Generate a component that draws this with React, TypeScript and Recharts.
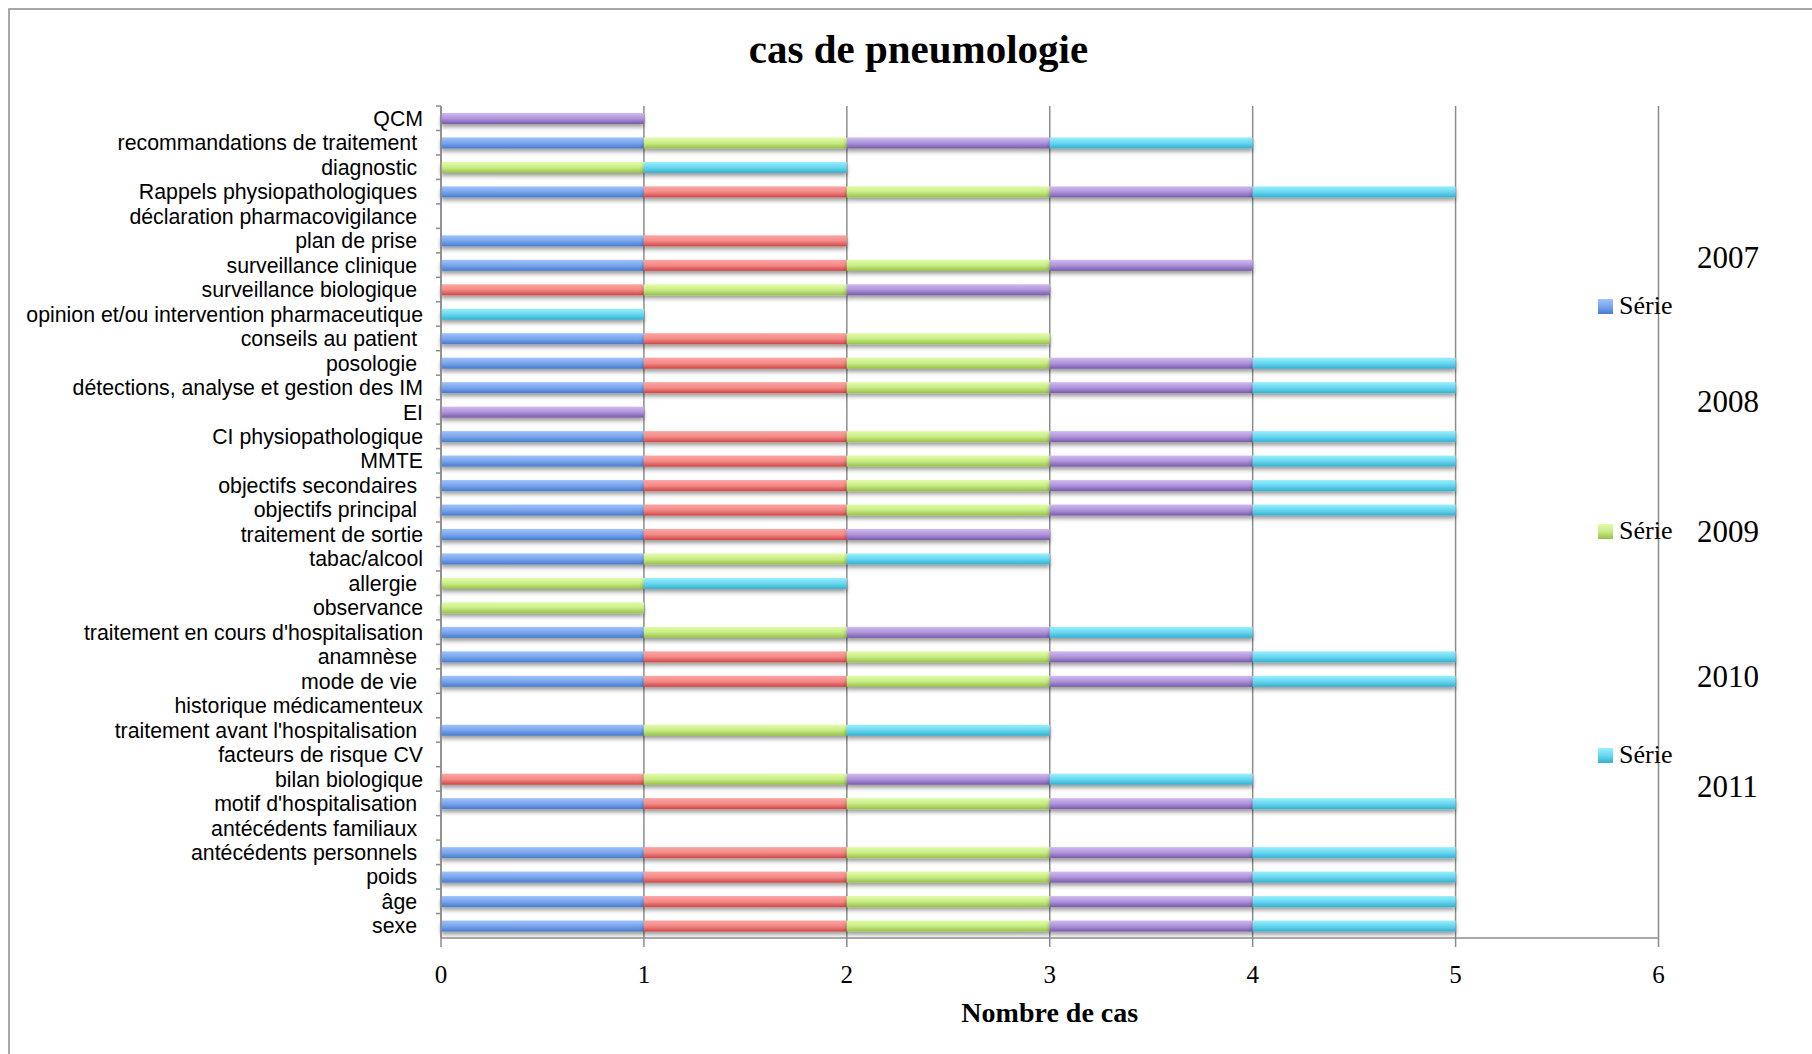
import React from "react";
import { BarChart, Bar, XAxis, YAxis, CartesianGrid, Legend, Label } from "recharts";

const CATEGORIES = [
  "QCM",
  "recommandations de traitement ",
  "diagnostic ",
  "Rappels physiopathologiques ",
  "déclaration pharmacovigilance ",
  "plan de prise ",
  "surveillance clinique ",
  "surveillance biologique ",
  "opinion et/ou intervention pharmaceutique",
  "conseils au patient ",
  "posologie ",
  "détections, analyse et gestion des IM",
  "EI",
  "CI physiopathologique",
  "MMTE",
  "objectifs secondaires ",
  "objectifs principal ",
  "traitement de sortie",
  "tabac/alcool",
  "allergie ",
  "observance",
  "traitement en cours d'hospitalisation",
  "anamnèse ",
  "mode de vie ",
  "historique médicamenteux",
  "traitement avant l'hospitalisation ",
  "facteurs de risque CV",
  "bilan biologique",
  "motif d'hospitalisation ",
  "antécédents familiaux ",
  "antécédents personnels ",
  "poids ",
  "âge ",
  "sexe ",
];

const S2007 = [0,1,0,1,0,1,1,0,0,1,1,1,0,1,1,1,1,1,1,0,0,1,1,1,0,1,0,0,1,0,1,1,1,1];
const S2008 = [0,0,0,1,0,1,1,1,0,1,1,1,0,1,1,1,1,1,0,0,0,0,1,1,0,0,0,1,1,0,1,1,1,1];
const S2009 = [0,1,1,1,0,0,1,1,0,1,1,1,0,1,1,1,1,0,1,1,1,1,1,1,0,1,0,1,1,0,1,1,1,1];
const S2010 = [1,1,0,1,0,0,1,1,0,0,1,1,1,1,1,1,1,1,0,0,0,1,1,1,0,0,0,1,1,0,1,1,1,1];
const S2011 = [0,1,1,1,0,0,0,0,1,0,1,1,0,1,1,1,1,0,1,1,0,1,1,1,0,1,0,1,1,0,1,1,1,1];

const SERIES_KEYS = ["s2007", "s2008", "s2009", "s2010", "s2011"];
const SERIES_NAMES = ["Série 2007", "Série 2008", "Série 2009", "Série 2010", "Série 2011"];
const X_TICKS = [0, 1, 2, 3, 4, 5, 6];

const TITLE = "cas de pneumologie";
const X_TITLE = "Nombre de cas";

// gradient colours (top, middle, bottom) per series
const GRADIENTS = [
  ["#9fc2fb", "#7aa5ec", "#477bcc"],
  ["#fda4a2", "#f28b88", "#cf4643"],
  ["#e1fda8", "#c9ec86", "#97c149"],
  ["#d0baf1", "#ae94db", "#785ba9"],
  ["#98f0fd", "#69d6f0", "#34b1d0"],
];

const data = CATEGORIES.map((name, i) => ({
  name,
  s2007: S2007[i],
  s2008: S2008[i],
  s2009: S2009[i],
  s2010: S2010[i],
  s2011: S2011[i],
}));

const W = 1812;
const H = 1054;
const PLOT_LEFT = 441;
const PLOT_TOP = 106;
const PLOT_BOTTOM = 938;
const BAND = (PLOT_BOTTOM - PLOT_TOP) / CATEGORIES.length;
const GRID = "#8c8c8c";

const YTick = (props: any) => {
  const { y, payload } = props;
  return (
    <g>
      <text
        x={PLOT_LEFT - 18}
        y={y}
        dy="0.36em"
        textAnchor="end"
        xmlSpace="preserve"
        style={{ whiteSpace: "pre" }}
        fontFamily="'Liberation Sans', Arial, sans-serif"
        fontSize={21.3}
        fill="#000"
      >
        {payload.value}
      </text>
      <line
        x1={PLOT_LEFT - 5}
        x2={PLOT_LEFT}
        y1={y - BAND / 2}
        y2={y - BAND / 2}
        stroke={GRID}
        strokeWidth={1.5}
      />
    </g>
  );
};

const XTick = (props: any) => {
  const { x, y, payload } = props;
  return (
    <text
      x={x}
      y={y + 34}
      textAnchor="middle"
      fontFamily="'Liberation Serif', 'Times New Roman', serif"
      fontSize={25}
      fill="#000"
    >
      {payload.value}
    </text>
  );
};

const makeShape = (i: number) => (p: any) => {
  if (!p || !(p.width > 0)) return null;
  return (
    <rect
      x={p.x}
      y={p.y}
      width={p.width}
      height={p.height}
      fill={`url(#barGrad${i})`}
      filter="url(#barShadow)"
    />
  );
};

const LEGEND_SERIE_Y = [307, null, 532, null, 756];
const LEGEND_YEAR_Y = [258, 402, 532, 677, 787];

const LegendContent = (props: any) => {
  const payload = props.payload || [];
  return (
    <div style={{ position: "relative", width: W, height: H }}>
      {payload.map((entry: any, i: number) => {
        const name = String(entry.value);
        const parts = name.split(" ");
        const g = GRADIENTS[i % GRADIENTS.length];
        const sy = LEGEND_SERIE_Y[i];
        return (
          <React.Fragment key={name}>
            {sy !== null && sy !== undefined && (
              <>
                <div
                  style={{
                    position: "absolute",
                    left: 1598,
                    top: sy - 8,
                    width: 15,
                    height: 15,
                    background: `linear-gradient(to bottom, ${g[0]}, ${g[1]} 50%, ${g[2]})`,
                  }}
                />
                <div
                  style={{
                    position: "absolute",
                    left: 1619,
                    top: sy - 16,
                    lineHeight: "30px",
                    fontFamily: "'Liberation Serif', serif",
                    fontSize: 26,
                    color: "#000",
                    whiteSpace: "nowrap",
                  }}
                >
                  {parts[0]}
                </div>
              </>
            )}
            <div
              style={{
                position: "absolute",
                left: 1697,
                top: LEGEND_YEAR_Y[i] - 18,
                lineHeight: "36px",
                fontFamily: "'Liberation Serif', serif",
                fontSize: 31,
                color: "#000",
                whiteSpace: "nowrap",
              }}
            >
              {parts.slice(1).join(" ")}
            </div>
          </React.Fragment>
        );
      })}
    </div>
  );
};

export default function App() {
  return (
    <div style={{ position: "absolute", left: 0, top: 0, width: W, height: H, background: "#fff" }}>
      <svg
        width={W}
        height={H}
        style={{ position: "absolute", left: 0, top: 0 }}
      >
        <rect x={9} y={9} width={W + 50} height={H + 50} fill="#fff" stroke={GRID} strokeWidth={1.5} />
        <text
          x={918.5}
          y={63}
          textAnchor="middle"
          fontFamily="'Liberation Serif', 'Times New Roman', serif"
          fontWeight="bold"
          fontSize={41}
          fill="#000"
        >
          {TITLE}
        </text>
      </svg>
      <div style={{ position: "absolute", left: 0, top: 0 }}>
        <BarChart
          width={W}
          height={H}
          data={data}
          layout="vertical"
          margin={{ top: PLOT_TOP, right: W - 1658.5, bottom: H - PLOT_BOTTOM - 60, left: PLOT_LEFT - 400 }}
          barSize={11}
        >
          <defs>
            {GRADIENTS.map((g, i) => (
              <linearGradient key={i} id={`barGrad${i}`} x1="0" y1="0" x2="0" y2="1">
                <stop offset="0%" stopColor={g[0]} />
                <stop offset="50%" stopColor={g[1]} />
                <stop offset="100%" stopColor={g[2]} />
              </linearGradient>
            ))}
            <filter id="barShadow" x="-5%" y="-60%" width="110%" height="260%">
              <feDropShadow dx="0" dy="3" stdDeviation="2" floodColor="#000" floodOpacity="0.4" />
            </filter>
          </defs>
          <CartesianGrid horizontal={false} vertical={true} stroke={GRID} strokeWidth={1.5} />
          <XAxis
            type="number"
            domain={[0, 6]}
            ticks={X_TICKS}
            interval={0}
            height={60}
            tickSize={9}
            axisLine={{ stroke: GRID, strokeWidth: 1.5 }}
            tickLine={{ stroke: GRID, strokeWidth: 1.5 }}
            tick={<XTick />}
          >
            <Label
              content={(p: any) => {
                const vb = p.viewBox || {};
                return (
                  <text
                    x={vb.x + vb.width / 2}
                    y={1022}
                    textAnchor="middle"
                    fontFamily="'Liberation Serif', 'Times New Roman', serif"
                    fontWeight="bold"
                    fontSize={28}
                    fill="#000"
                  >
                    {X_TITLE}
                  </text>
                );
              }}
            />
          </XAxis>
          <YAxis
            type="category"
            dataKey="name"
            width={400}
            interval={0}
            axisLine={{ stroke: GRID, strokeWidth: 1.5 }}
            tickLine={false}
            tick={<YTick />}
          />
          <Legend
            layout="horizontal"
            verticalAlign="middle"
            align="center"
            wrapperStyle={{ position: "absolute", left: 0, top: 0, width: W, height: H, pointerEvents: "none" }}
            content={<LegendContent />}
          />
          {SERIES_KEYS.map((k, i) => (
            <Bar
              key={k}
              dataKey={k}
              name={SERIES_NAMES[i]}
              stackId="a"
              fill={GRADIENTS[i][1]}
              isAnimationActive={false}
              shape={makeShape(i)}
            />
          ))}
        </BarChart>
      </div>
    </div>
  );
}
